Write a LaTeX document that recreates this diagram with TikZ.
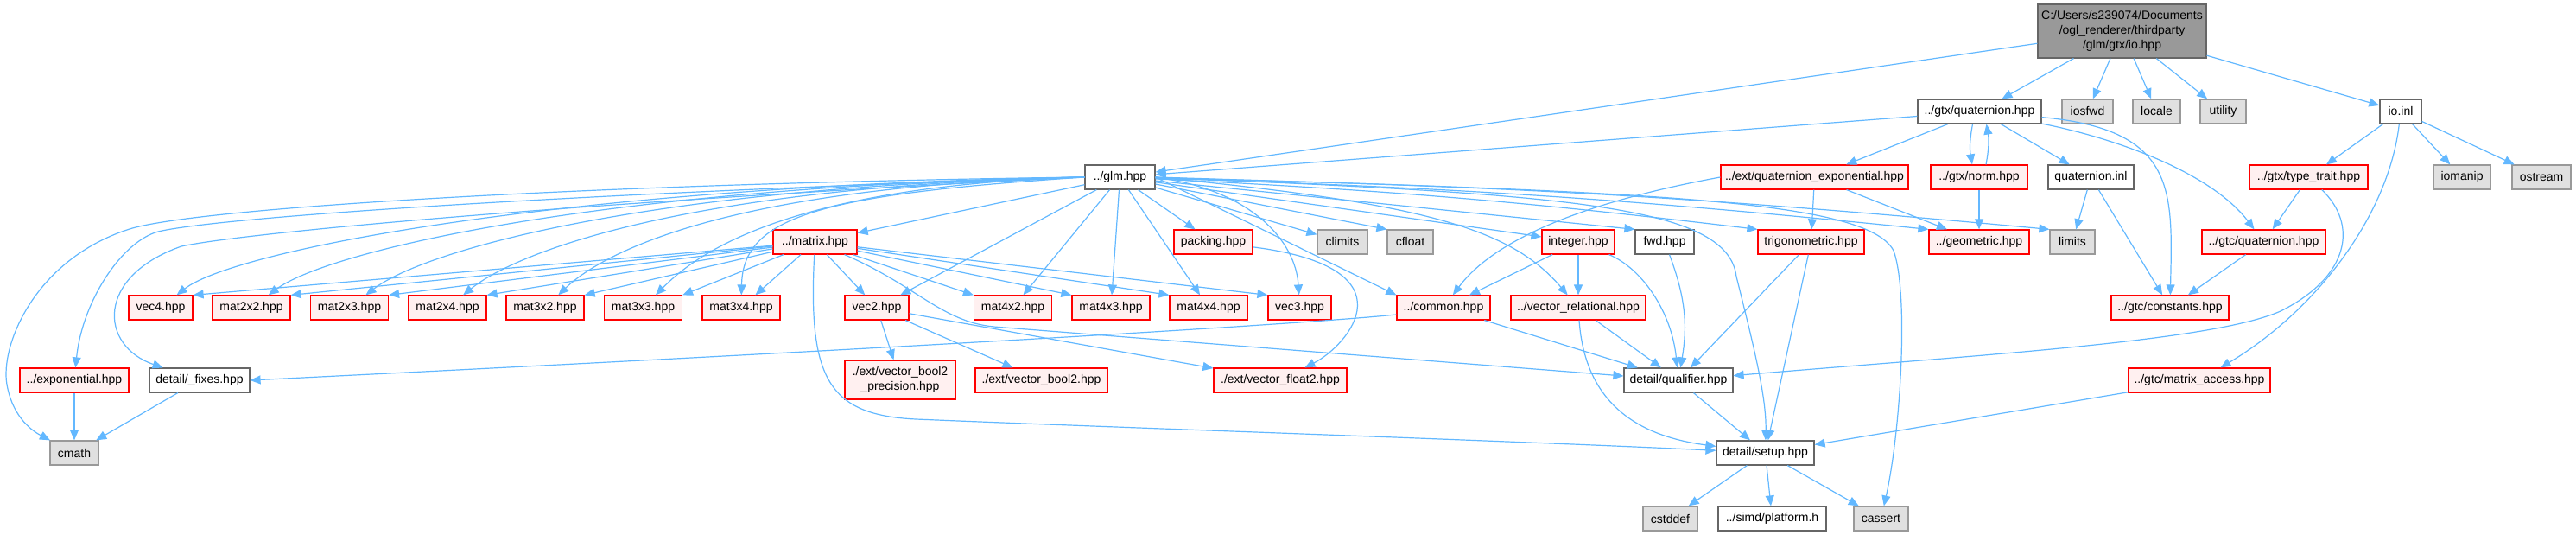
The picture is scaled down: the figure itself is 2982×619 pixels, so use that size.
\documentclass[tikz,border=0pt]{standalone}
\usepackage{fontspec}
\setmainfont{Liberation Sans}
\usetikzlibrary{arrows.meta}

\definecolor{edgeblue}{HTML}{63B8FF}
\definecolor{docline}{HTML}{666666}
\definecolor{redline}{HTML}{FF0000}
\definecolor{redfill}{HTML}{FFF0F0}
\definecolor{sysline}{HTML}{999999}
\definecolor{sysfill}{HTML}{E0E0E0}
\definecolor{rootfill}{HTML}{999999}

\begin{document}
\begin{tikzpicture}[x=0.5pt,y=0.5pt,
		hdr/.style={draw=docline, fill=white, line width=0.6pt, minimum height=14pt, inner xsep=2pt, inner ysep=1pt, font=\fontsize{7}{8.5}\selectfont},
		redbox/.style={hdr, draw=redline, fill=redfill},
		sysbox/.style={hdr, draw=sysline, fill=sysfill},
		rootbox/.style={hdr, fill=rootfill, align=center},
		matbox/.style={redbox, minimum width=45pt},
		incl/.style={draw=edgeblue, line width=0.6pt, -{Triangle[length=6pt,width=5pt]}}]
			\useasboundingbox (0,0) rectangle (2982,-619);

			% files
			\node[rootbox, minimum width=97.5pt, minimum height=31pt] (root) at (2456.5,-36) {C:/Users/s239074/Documents\\/ogl\_renderer/thirdparty\\/glm/gtx/io.hpp};
			\node[hdr, minimum width=71.5pt] (gtxquat) at (2291.5,-129) {../gtx/quaternion.hpp};
			\node[sysbox, minimum width=29.5pt] (iosfwd) at (2416.5,-129) {iosfwd};
			\node[sysbox, minimum width=27.5pt] (locale) at (2496.5,-129) {locale};
			\node[sysbox, minimum width=26.5pt] (utility) at (2573.5,-129) {utility};
			\node[hdr, minimum width=24pt] (ioinl) at (2779,-129) {io.inl};

			\node[hdr, minimum width=40.5pt] (glm) at (1296.5,-205) {../glm.hpp};
			\node[redbox, minimum width=108.5pt] (quatexp) at (2100.5,-205) {../ext/quaternion\_exponential.hpp};
			\node[redbox, minimum width=56pt] (norm) at (2291,-205) {../gtx/norm.hpp};
			\node[hdr, minimum width=49.5pt] (quatinl) at (2420.5,-205) {quaternion.inl};
			\node[redbox, minimum width=68.5pt] (typetrait) at (2672.5,-205) {../gtx/type\_trait.hpp};
			\node[sysbox, minimum width=33pt] (iomanip) at (2850,-205) {iomanip};
			\node[sysbox, minimum width=34pt] (ostream) at (2942,-205) {ostream};

			\node[redbox, minimum width=48.5pt] (matrix) at (943.5,-280) {../matrix.hpp};
			\node[redbox, minimum width=45.5pt] (packing) at (1404.5,-280) {packing.hpp};
			\node[sysbox, minimum width=29pt] (climits) at (1554,-280) {climits};
			\node[sysbox, minimum width=26.5pt] (cfloat) at (1632.5,-280) {cfloat};
			\node[redbox, minimum width=42pt] (integer) at (1827,-280) {integer.hpp};
			\node[hdr, minimum width=34pt] (fwd) at (1927,-280) {fwd.hpp};
			\node[redbox, minimum width=61.5pt] (trig) at (2096.5,-280) {trigonometric.hpp};
			\node[redbox, minimum width=58pt] (geometric) at (2291,-280) {../geometric.hpp};
			\node[sysbox, minimum width=26pt] (limits) at (2399,-280) {limits};
			\node[redbox, minimum width=71.5pt] (gtcquat) at (2620.5,-280) {../gtc/quaternion.hpp};

			\node[redbox, minimum width=37pt] (vec4) at (186,-356) {vec4.hpp};
			\node[matbox] (mat2x2) at (291,-356) {mat2x2.hpp};
			\node[matbox] (mat2x3) at (404.5,-356) {mat2x3.hpp};
			\node[matbox] (mat2x4) at (518,-356) {mat2x4.hpp};
			\node[matbox] (mat3x2) at (631,-356) {mat3x2.hpp};
			\node[matbox] (mat3x3) at (744.5,-356) {mat3x3.hpp};
			\node[matbox] (mat3x4) at (858,-356) {mat3x4.hpp};
			\node[redbox, minimum width=37pt] (vec2) at (1015,-356) {vec2.hpp};
			\node[matbox] (mat4x2) at (1172.5,-356) {mat4x2.hpp};
			\node[matbox] (mat4x3) at (1286,-356) {mat4x3.hpp};
			\node[matbox] (mat4x4) at (1399,-356) {mat4x4.hpp};
			\node[redbox, minimum width=36.5pt] (vec3) at (1504.5,-356) {vec3.hpp};
			\node[redbox, minimum width=54pt] (common) at (1671,-356) {../common.hpp};
			\node[redbox, minimum width=78pt] (vecrel) at (1827,-356) {../vector\_relational.hpp};
			\node[redbox, minimum width=68pt] (constants) at (2512,-356) {../gtc/constants.hpp};

			\node[redbox, minimum width=63pt] (exponential) at (86,-440) {../exponential.hpp};
			\node[hdr, minimum width=58pt] (fixes) at (231,-440) {detail/\_fixes.hpp};
			\node[redbox, minimum width=64pt, minimum height=22.5pt, align=center] (boolprec) at (1042,-439.5) {./ext/vector\_bool2\\\_precision.hpp};
			\node[redbox, minimum width=76.5pt] (bool2) at (1205.5,-440) {./ext/vector\_bool2.hpp};
			\node[redbox, minimum width=77pt] (float2) at (1482,-440) {./ext/vector\_float2.hpp};
			\node[hdr, minimum width=63pt] (qualifier) at (1943,-440) {detail/qualifier.hpp};
			\node[redbox, minimum width=82pt] (matacc) at (2546,-440) {../gtc/matrix\_access.hpp};

			\node[sysbox, minimum width=28pt] (cmath) at (86,-524) {cmath};
			\node[hdr, minimum width=56.5pt] (setup) at (2043.5,-524) {detail/setup.hpp};

			\node[sysbox, minimum width=31.5pt] (cstddef) at (1933.5,-600) {cstddef};
			\node[hdr, minimum width=62.5pt] (platform) at (2051.5,-600) {../simd/platform.h};
			\node[sysbox, minimum width=31.5pt] (cassert) at (2177.5,-600) {cassert};

			% includes of io.hpp
			\draw[incl] (root) -- (glm);
			\draw[incl] (root) -- (gtxquat);
			\draw[incl] (root) -- (iosfwd);
			\draw[incl] (root) -- (locale);
			\draw[incl] (root) -- (utility);
			\draw[incl] (root) -- (ioinl);

			\draw[incl] (gtxquat) -- (glm);
			\draw[incl] (gtxquat) -- (quatexp);
			\draw[incl] ([xshift=-4pt]gtxquat.south) to[bend right=10] ([xshift=-4pt]norm.north);
			\draw[incl] ([xshift=4pt]norm.north) to[bend right=10] ([xshift=4pt]gtxquat.south);
			\draw[incl] (gtxquat) -- (quatinl);
			\draw[incl] (gtxquat) .. controls (2520,-150) and (2515,-220) .. (constants);
			\draw[incl] (gtxquat) .. controls (2450,-160) and (2560,-200) .. (gtcquat);

			\draw[incl] (ioinl) -- (typetrait);
			\draw[incl] (ioinl) -- (iomanip);
			\draw[incl] (ioinl) -- (ostream);
			\draw[incl] (ioinl) .. controls (2765,-250) and (2680,-360) .. (matacc);
			\draw[incl] (typetrait) -- (gtcquat);
			\draw[incl] (typetrait) .. controls (2730,-260) and (2720,-320) .. (2640,-360) .. controls (2560,-395) and (2300,-410) .. (qualifier);
			\draw[incl] (gtcquat) -- (constants);
			\draw[incl] (matacc) -- (setup);

			\draw[incl] (norm) -- (geometric);
			\draw[incl] (quatexp.west) .. controls (1800,-240) and (1720,-290) .. (common);
			\draw[incl] (quatexp) -- (trig);
			\draw[incl] (quatexp) -- (geometric);
			\draw[incl] (quatinl) -- (limits);
			\draw[incl] (quatinl) -- (constants);

			% glm.hpp
			\draw[incl] (glm.west) .. controls (700,-212) and (230,-240) .. (150,-265) .. controls (40,-300) and (0,-400) .. (8,-445) .. controls (15,-485) and (40,-500) .. (cmath);
			\draw[incl] (glm.west) .. controls (700,-222) and (260,-250) .. (183,-268) .. controls (140,-280) and (95,-350) .. (exponential);
			\draw[incl] (glm.west) .. controls (700,-232) and (290,-268) .. (210,-285) .. controls (110,-320) and (115,-400) .. (fixes);
			\draw[incl] (glm.west) .. controls (650,-215) and (270,-290) .. (vec4);
			\draw[incl] (glm.west) .. controls (700,-215) and (380,-290) .. (mat2x2);
			\draw[incl] (glm.west) .. controls (750,-215) and (490,-290) .. (mat2x3);
			\draw[incl] (glm.west) .. controls (800,-215) and (600,-290) .. (mat2x4);
			\draw[incl] (glm.west) .. controls (850,-215) and (700,-290) .. (mat3x2);
			\draw[incl] (glm.west) .. controls (900,-215) and (800,-300) .. (mat3x3);
			\draw[incl] (glm.west) .. controls (950,-225) and (860,-250) .. (mat3x4);
			\draw[incl] (glm) -- (matrix);
			\draw[incl] (glm) -- (vec2);
			\draw[incl] (glm) -- (mat4x2);
			\draw[incl] (glm) -- (mat4x3);
			\draw[incl] (glm) -- (mat4x4);
			\draw[incl] (glm.east) .. controls (1450,-220) and (1500,-280) .. (vec3);
			\draw[incl] (glm) -- (packing);
			\draw[incl] (glm) -- (climits);
			\draw[incl] (glm) -- (cfloat.north west);
			\draw[incl] (glm.east) -- (common.north west);
			\draw[incl] (glm) -- (integer);
			\draw[incl] (glm) -- (fwd.north west);
			\draw[incl] (glm.east) .. controls (1650,-235) and (1750,-265) .. (vecrel);
			\draw[incl] (glm) to[bend left=2] (trig.north west);
			\draw[incl] (glm) to[bend left=2] (geometric.north west);
			\draw[incl] (glm) to[bend left=2] (limits.north west);
			\draw[incl] (glm.east) .. controls (1800,-225) and (2000,-235) .. (2010,-320) .. controls (2030,-400) and (2045,-460) .. (setup);
			\draw[incl] (glm.east) .. controls (1900,-222) and (2160,-230) .. (2192,-290) .. controls (2210,-340) and (2200,-500) .. (cassert);

			% matrix.hpp
			\draw[incl] (matrix) -- (vec4.north east);
			\draw[incl] (matrix) -- (mat2x2.north east);
			\draw[incl] (matrix) -- (mat2x3.north east);
			\draw[incl] (matrix) -- (mat2x4.north east);
			\draw[incl] (matrix) -- (mat3x2.north east);
			\draw[incl] (matrix) -- (mat3x3.north east);
			\draw[incl] (matrix) -- (mat3x4);
			\draw[incl] (matrix) -- (vec2);
			\draw[incl] (matrix) -- (mat4x2.north west);
			\draw[incl] (matrix) -- (mat4x3.north west);
			\draw[incl] (matrix) -- (mat4x4.north west);
			\draw[incl] (matrix) -- (vec3.north west);
			\draw[incl] (matrix) .. controls (1060,-330) and (1090,-372) .. (1150,-378) -- (qualifier);
			\draw[incl] (matrix) .. controls (935,-440) and (960,-480) .. (1060,-485) .. controls (1300,-495) and (1750,-510) .. (setup);

			\draw[incl] (vec2) -- (boolprec);
			\draw[incl] (vec2) -- (bool2);
			\draw[incl] (vec2) -- (float2);
			\draw[incl] (packing) .. controls (1640,-310) and (1560,-400) .. (float2);

			\draw[incl] ([yshift=-4pt]common.west) .. controls (1500,-376) and (1000,-405) .. (fixes.east);
			\draw[incl] (common) -- (qualifier);
			\draw[incl] (integer) -- (common);
			\draw[incl] (integer) -- (vecrel);
			\draw[incl] (integer) .. controls (1900,-310) and (1935,-360) .. (qualifier);
			\draw[incl] (fwd) to[bend left=15] (qualifier);
			\draw[incl] (vecrel) -- (qualifier);
			\draw[incl] (vecrel) .. controls (1835,-470) and (1900,-505) .. (setup);
			\draw[incl] (trig) -- (qualifier);
			\draw[incl] (trig) -- (setup);
			\draw[incl] (qualifier) -- (setup);

			\draw[incl] (exponential) -- (cmath);
			\draw[incl] (fixes) -- (cmath);
			\draw[incl] (setup) -- (cstddef);
			\draw[incl] (setup) -- (platform);
			\draw[incl] (setup) -- (cassert);
		\end{tikzpicture}
\end{document}
